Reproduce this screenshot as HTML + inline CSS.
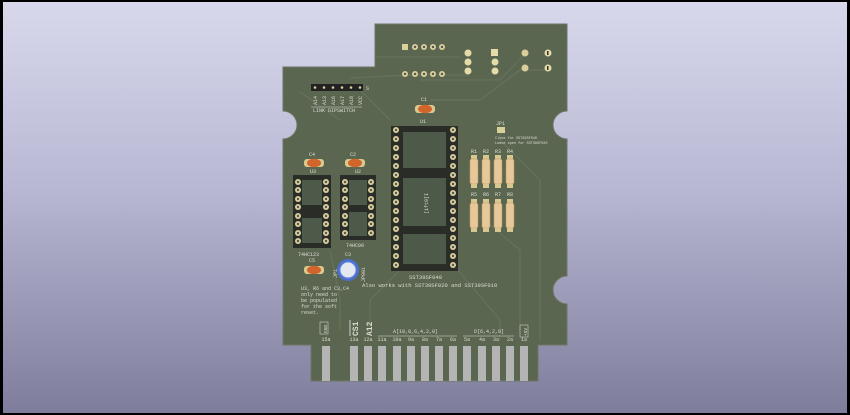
<!DOCTYPE html>
<html><head><meta charset="utf-8"><style>
html,body{margin:0;padding:0}
body{width:850px;height:415px;overflow:hidden;position:relative;background:#000}
#bg{position:absolute;left:3px;top:2px;width:844px;height:411px;background:linear-gradient(#d8d8ec,#b8b8d4 45%,#7e7e9c)}
svg{position:absolute;left:0;top:0}
text{font-family:"Liberation Mono",monospace;fill:#dcdcd2}
</style></head><body><div id="bg"></div>
<svg width="850" height="415" viewBox="0 0 850 415">
<defs>
<g id="pin"><circle r="3" fill="#d8cf9a"/><circle r="1.2" fill="#555"/></g>
<g id="cap"><rect x="-10" y="-4" width="20" height="8" rx="3" fill="#d9c98e"/><ellipse rx="7" ry="4.2" fill="#d2652c"/></g>
<g id="res"><rect x="-3" y="0" width="6" height="4" fill="#d8c890"/><rect x="-4" y="4" width="8" height="25" rx="2" fill="#e8c89a" stroke="#b89a60" stroke-width="0.6"/><rect x="-3" y="29" width="6" height="4" fill="#d8c890"/></g>
</defs>
<path d="M283 67 H375 V24 H567 V111 A14 14 0 0 0 567 139 V276 A14 14 0 0 0 567 304 V345 H538 V381 H311 V345 H283 V139 A14 14 0 0 0 283 111 Z" fill="#5b6651" stroke="#6c7562" stroke-width="1"/>
<g stroke="#65725b" stroke-width="1.3" fill="none">
<path d="M376 57 H460"/><path d="M350 78 L410 75 L468 75"/><path d="M420 80 L500 80 L525 54"/>
<path d="M360 90 L390 120"/><path d="M300 92 L340 120"/><path d="M430 100 L480 100 L520 70 H548"/>
<path d="M500 130 V140 L540 180 V340"/><path d="M458 270 L500 320 V340"/><path d="M400 270 L370 300 V330"/>
<path d="M330 250 L340 300 V330"/><path d="M472 210 L520 250 V330"/>
</g>
<g><rect x="402" y="44" width="6" height="6" fill="#d8cf9a"/>
<use href="#pin" x="415" y="47"/><use href="#pin" x="424" y="47"/><use href="#pin" x="433" y="47"/><use href="#pin" x="442" y="47"/>
<use href="#pin" x="405" y="74"/><use href="#pin" x="415" y="74"/><use href="#pin" x="424" y="74"/><use href="#pin" x="433" y="74"/><use href="#pin" x="442" y="74"/>
<circle cx="468" cy="53" r="3.5" fill="#e4dba8"/><circle cx="468" cy="62" r="3.5" fill="#e4dba8"/><circle cx="468" cy="71" r="3.5" fill="#e4dba8"/>
<rect x="491" y="49" width="7" height="7" fill="#e4dba8"/><circle cx="495" cy="62" r="3.5" fill="#e4dba8"/><circle cx="495" cy="71" r="3.5" fill="#e4dba8"/>
<circle cx="525" cy="53" r="3.5" fill="#d8cf9a"/><circle cx="525" cy="68" r="3.5" fill="#d8cf9a"/><circle cx="548" cy="53" r="3.5" fill="#e4dba8"/><circle cx="548" cy="68" r="3.5" fill="#e4dba8"/>
<rect x="547" y="51" width="1.5" height="4" fill="#333"/><rect x="547" y="66" width="1.5" height="4" fill="#333"/></g>
<rect x="311" y="84" width="52" height="7" fill="#222"/>
<g fill="#d8cf9a"><circle cx="315" cy="87.5" r="1.3"/><circle cx="324" cy="87.5" r="1.3"/><circle cx="333" cy="87.5" r="1.3"/><circle cx="342" cy="87.5" r="1.3"/><circle cx="351" cy="87.5" r="1.3"/><circle cx="360" cy="87.5" r="1.3"/></g>
<g font-size="5"><text x="366" y="90">S</text>
<text transform="translate(317,105) rotate(-90)">A14</text><text transform="translate(326,105) rotate(-90)">A13</text><text transform="translate(335,105) rotate(-90)">A16</text><text transform="translate(344,105) rotate(-90)">A17</text><text transform="translate(353,105) rotate(-90)">A18</text><text transform="translate(362,105) rotate(-90)">VCC</text>
<text x="313" y="112">LINK DIPSWITCH</text></g>
<line x1="311" y1="107" x2="362" y2="107" stroke="#ddd" stroke-width="0.5"/>
<use href="#cap" x="425" y="109"/><text x="421" y="101" font-size="5">C1</text>
<use href="#cap" x="314" y="163"/><text x="309" y="156" font-size="5">C4</text>
<use href="#cap" x="355" y="163"/><text x="350" y="156" font-size="5">C2</text>
<use href="#cap" x="314" y="270"/><text x="309" y="262" font-size="5">C5</text>
<circle cx="348" cy="270" r="11" fill="#4a6fd0"/><circle cx="348" cy="270" r="8" fill="#e4e8f0"/><circle cx="348" cy="270" r="8" fill="none" stroke="#6e8bdc" stroke-width="1"/>
<text x="345" y="256" font-size="5">C3</text>
<text transform="translate(337,278) rotate(-90)" font-size="5">JP1</text>
<text transform="translate(365,282) rotate(-90)" font-size="5">JP001</text>
<rect x="391" y="126" width="67" height="145" fill="#2a2c28"/>
<rect x="403" y="132" width="43" height="36" fill="#4d5a4a"/><rect x="403" y="178" width="43" height="48" fill="#4d5a4a"/><rect x="403" y="234" width="43" height="30" fill="#4d5a4a"/>
<text transform="translate(428,214) rotate(-90)" font-size="5">[ift9]I</text>
<text x="420" y="123" font-size="5">U1</text>
<rect x="293" y="175" width="38" height="73" fill="#2a2c28"/><rect x="302" y="180" width="20" height="25" fill="#4d5a4a"/><rect x="302" y="218" width="20" height="25" fill="#4d5a4a"/>
<rect x="340" y="175" width="36" height="65" fill="#2a2c28"/><rect x="349" y="180" width="18" height="25" fill="#4d5a4a"/><rect x="349" y="212" width="18" height="24" fill="#4d5a4a"/>
<text x="310" y="173" font-size="5">U3</text><text x="355" y="173" font-size="5">U2</text>
<text x="298" y="256" font-size="5">74HC123</text><text x="346" y="247" font-size="5">74HC00</text>
<text x="496" y="125" font-size="5">JP1</text><rect x="497" y="127" width="8" height="6" fill="#d8cf9a"/>
<text x="495" y="139" font-size="3.5">Close for SST39SF040</text><text x="495" y="144" font-size="3.5">Leave open for SST39SF020</text>
<g font-size="5"><text x="471" y="153">R1</text><text x="483" y="153">R2</text><text x="495" y="153">R3</text><text x="507" y="153">R4</text>
<text x="471" y="196">R5</text><text x="483" y="196">R6</text><text x="495" y="196">R7</text><text x="507" y="196">R8</text></g>
<use href="#res" x="474" y="155"/><use href="#res" x="486" y="155"/><use href="#res" x="498" y="155"/><use href="#res" x="510" y="155"/>
<use href="#res" x="474" y="199"/><use href="#res" x="486" y="199"/><use href="#res" x="498" y="199"/><use href="#res" x="510" y="199"/>
<text x="409" y="279" font-size="5.5">SST39SF040</text>
<text x="362" y="287" font-size="5.5">Also works with SST39SF020 and SST39SF010</text>
<g font-size="5"><text x="301" y="290">U3, R6 and C3,C4</text><text x="301" y="296">only need to</text><text x="301" y="302">be populated</text><text x="301" y="308">for the soft</text><text x="301" y="314">reset.</text></g>
<rect x="320" y="322" width="8" height="12" fill="none" stroke="#ddd" stroke-width="0.5"/><text transform="translate(327,333) rotate(-90)" font-size="4.5">GND</text>
<line x1="350" y1="320" x2="350" y2="336" stroke="#eee" stroke-width="0.8"/>
<text transform="translate(358,336) rotate(-90)" font-size="8" font-weight="bold">CS1</text>
<text transform="translate(372,336) rotate(-90)" font-size="8" font-weight="bold">A12</text>
<text x="393" y="333" font-size="5">A[10,8,6,4,2,0]</text><line x1="378" y1="336" x2="457" y2="336" stroke="#ddd" stroke-width="0.5"/>
<text x="474" y="333" font-size="5">D[6,4,2,0]</text><line x1="463" y1="336" x2="514" y2="336" stroke="#ddd" stroke-width="0.5"/>
<rect x="520" y="325" width="8" height="12" fill="none" stroke="#ddd" stroke-width="0.5"/><text transform="translate(527,336) rotate(-90)" font-size="4.5">+5V</text>
<g font-size="5" text-anchor="middle"><text x="326" y="341">15a</text><text x="354" y="341">13a</text><text x="368" y="341">12a</text><text x="382" y="341">11a</text><text x="397" y="341">10a</text><text x="411" y="341">9a</text><text x="425" y="341">8a</text><text x="439" y="341">7a</text><text x="453" y="341">6a</text><text x="467" y="341">5a</text><text x="482" y="341">4a</text><text x="496" y="341">3a</text><text x="510" y="341">2a</text><text x="524" y="341">1a</text></g>
<g fill="#b4b4b4"><rect x="322" y="346" width="8" height="35"/><rect x="350" y="346" width="8" height="35"/><rect x="364" y="346" width="8" height="35"/><rect x="378" y="346" width="8" height="35"/><rect x="393" y="346" width="8" height="35"/><rect x="407" y="346" width="8" height="35"/><rect x="421" y="346" width="8" height="35"/><rect x="435" y="346" width="8" height="35"/><rect x="449" y="346" width="8" height="35"/><rect x="463" y="346" width="8" height="35"/><rect x="478" y="346" width="8" height="35"/><rect x="492" y="346" width="8" height="35"/><rect x="506" y="346" width="8" height="35"/><rect x="520" y="346" width="8" height="35"/></g>
<g>
<use href="#pin" x="396" y="130"/><use href="#pin" x="396" y="139"/><use href="#pin" x="396" y="148"/><use href="#pin" x="396" y="157"/><use href="#pin" x="396" y="166"/><use href="#pin" x="396" y="175"/><use href="#pin" x="396" y="184"/><use href="#pin" x="396" y="193"/><use href="#pin" x="396" y="202"/><use href="#pin" x="396" y="211"/><use href="#pin" x="396" y="220"/><use href="#pin" x="396" y="229"/><use href="#pin" x="396" y="238"/><use href="#pin" x="396" y="247"/><use href="#pin" x="396" y="256"/><use href="#pin" x="396" y="265"/>
<use href="#pin" x="453" y="130"/><use href="#pin" x="453" y="139"/><use href="#pin" x="453" y="148"/><use href="#pin" x="453" y="157"/><use href="#pin" x="453" y="166"/><use href="#pin" x="453" y="175"/><use href="#pin" x="453" y="184"/><use href="#pin" x="453" y="193"/><use href="#pin" x="453" y="202"/><use href="#pin" x="453" y="211"/><use href="#pin" x="453" y="220"/><use href="#pin" x="453" y="229"/><use href="#pin" x="453" y="238"/><use href="#pin" x="453" y="247"/><use href="#pin" x="453" y="256"/><use href="#pin" x="453" y="265"/>
<use href="#pin" x="298" y="182"/><use href="#pin" x="298" y="190"/><use href="#pin" x="298" y="199"/><use href="#pin" x="298" y="207"/><use href="#pin" x="298" y="216"/><use href="#pin" x="298" y="224"/><use href="#pin" x="298" y="233"/><use href="#pin" x="298" y="241"/>
<use href="#pin" x="326" y="182"/><use href="#pin" x="326" y="190"/><use href="#pin" x="326" y="199"/><use href="#pin" x="326" y="207"/><use href="#pin" x="326" y="216"/><use href="#pin" x="326" y="224"/><use href="#pin" x="326" y="233"/><use href="#pin" x="326" y="241"/>
<use href="#pin" x="345" y="182"/><use href="#pin" x="345" y="190"/><use href="#pin" x="345" y="199"/><use href="#pin" x="345" y="207"/><use href="#pin" x="345" y="216"/><use href="#pin" x="345" y="224"/><use href="#pin" x="345" y="233"/>
<use href="#pin" x="371" y="182"/><use href="#pin" x="371" y="190"/><use href="#pin" x="371" y="199"/><use href="#pin" x="371" y="207"/><use href="#pin" x="371" y="216"/><use href="#pin" x="371" y="224"/><use href="#pin" x="371" y="233"/>
</g>
</svg></body></html>
